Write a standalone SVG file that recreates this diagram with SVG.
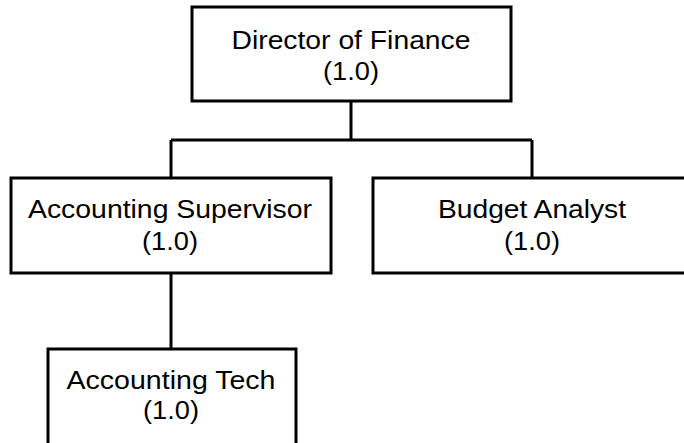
<svg xmlns="http://www.w3.org/2000/svg" width="684" height="443" viewBox="0 0 684 443">
<style>
.box{fill:#fff;stroke:#000;stroke-width:3}
.ln{fill:none;stroke:#000;stroke-width:3}
text{font-family:"Liberation Sans",Arial,sans-serif;font-size:26px;fill:#000;text-anchor:middle}
</style>
<rect width="684" height="443" fill="#fff"/>
<g id="connectors">
<path class="ln" d="M351 101V140M171 140H532M171 140V178M532 140V178M171 273V349"/>
</g>
<g id="director">
<rect class="box" x="192" y="7" width="319" height="94"/>
<text x="351" y="49" textLength="239" lengthAdjust="spacingAndGlyphs">Director of Finance</text>
<text x="351" y="80" textLength="56" lengthAdjust="spacingAndGlyphs">(1.0)</text>
</g>
<g id="supervisor">
<rect class="box" x="11" y="178" width="320" height="95"/>
<text x="170" y="218" textLength="284" lengthAdjust="spacingAndGlyphs">Accounting Supervisor</text>
<text x="170" y="250" textLength="56" lengthAdjust="spacingAndGlyphs">(1.0)</text>
</g>
<g id="analyst">
<rect class="box" x="373" y="178" width="320" height="95"/>
<text x="532" y="218" textLength="188" lengthAdjust="spacingAndGlyphs">Budget Analyst</text>
<text x="532" y="250" textLength="56" lengthAdjust="spacingAndGlyphs">(1.0)</text>
</g>
<g id="tech">
<rect class="box" x="48" y="349" width="248" height="100"/>
<text x="171" y="389" textLength="209" lengthAdjust="spacingAndGlyphs">Accounting Tech</text>
<text x="171" y="419" textLength="56" lengthAdjust="spacingAndGlyphs">(1.0)</text>
</g>
</svg>
